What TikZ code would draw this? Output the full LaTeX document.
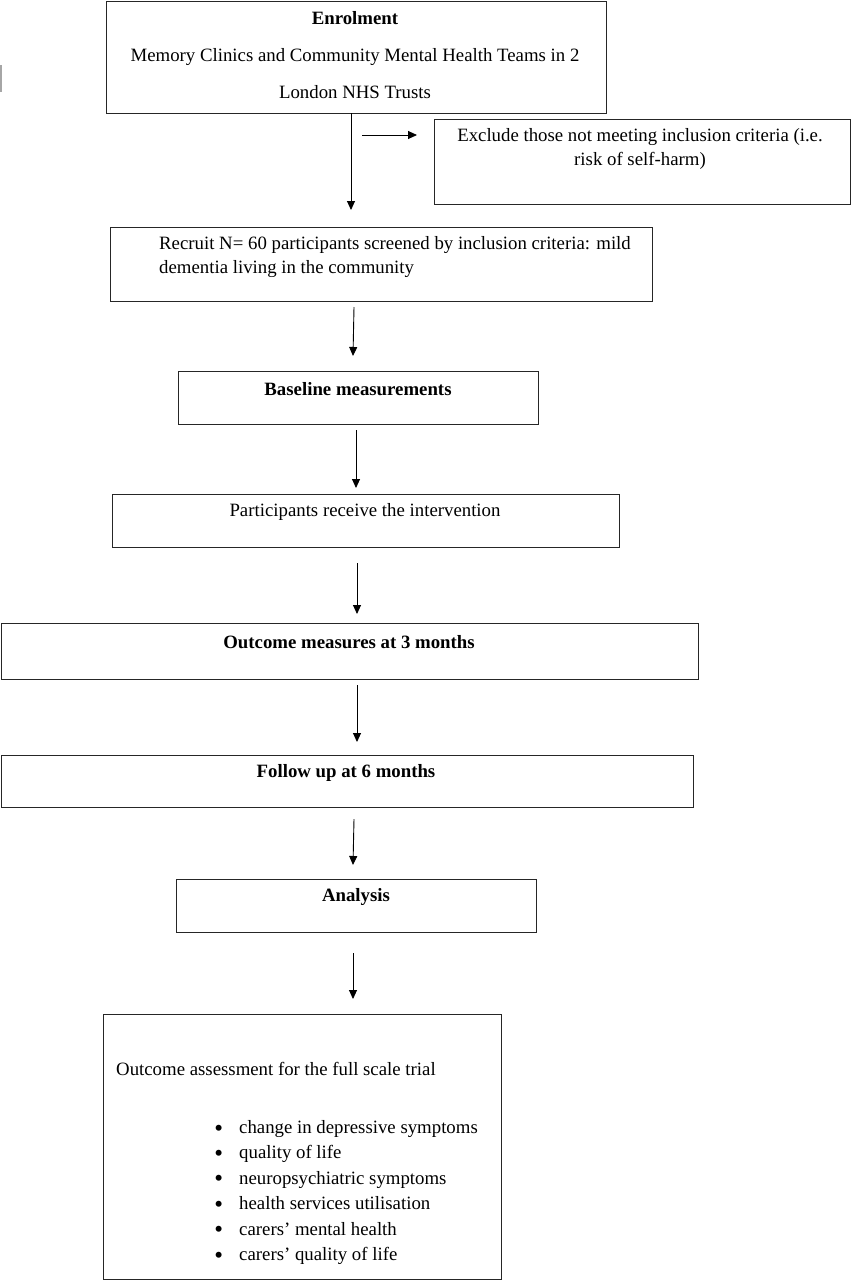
\documentclass[tikz,border=0pt]{standalone}
\usepackage{fontspec}
\setmainfont{Liberation Serif}
\usetikzlibrary{arrows.meta}
\newcommand{\bigbul}{\llap{\raisebox{-2.5pt}{\fontsize{25}{25}\selectfont •}\hspace{16pt}}}
\begin{document}
\begin{tikzpicture}[x=1pt,y=-1pt,
  box/.style={draw=black!85, line width=1.3pt, inner sep=0pt, anchor=north west},
  txt/.style={font=\fontsize{18.8}{24}\selectfont, inner sep=0pt, text=black},
  bold/.style={font=\bfseries\fontsize{18.8}{24}\selectfont},
  flow/.style={line width=0.9pt, -{Triangle[length=9pt,width=8pt]}}]
\useasboundingbox (0,0) rectangle (851,1280);

% boxes
\node[box, minimum width=500pt, minimum height=112pt] (enrol) at (106,0.7) {};
\node[box, minimum width=416pt, minimum height=85pt] (excl) at (434,119) {};
\node[box, minimum width=542pt, minimum height=74pt] (recruit) at (110,227) {};
\node[box, minimum width=360pt, minimum height=53pt] (base) at (178,371) {};
\node[box, minimum width=507pt, minimum height=53pt] (partic) at (112,494) {};
\node[box, minimum width=697pt, minimum height=56pt] (outc) at (0.7,623) {};
\node[box, minimum width=692pt, minimum height=52pt] (follow) at (0.7,755) {};
\node[box, minimum width=360pt, minimum height=53pt] (anal) at (176,879) {};
\node[box, minimum width=398pt, minimum height=265pt] (final) at (103,1014) {};

% texts
\node[txt, font=\fontsize{18.8}{37}\selectfont, align=center] (enrolT) at (355,55)
  {\textbf{Enrolment}\\Memory Clinics and Community Mental Health Teams in 2\\London NHS Trusts};
\node[txt, align=center] (exclT) at (640,149)
  {Exclude those not meeting inclusion criteria (i.e.\\risk of self-harm)};
\node[txt, align=left, anchor=west] (recT) at (159,257.5)
  {Recruit N= 60 participants screened by inclusion criteria: mild\\dementia living in the community};
\node[txt, bold] (baseT) at (358,389) {Baseline measurements};
\node[txt] (partT) at (365,512) {Participants receive the intervention};
\node[txt, bold] (outT) at (349,642) {Outcome measures at 3 months};
\node[txt, bold] (follT) at (346,773) {Follow up at 6 months};
\node[txt, bold] (analT) at (356,897) {Analysis};
\node[txt, anchor=west] (finT) at (116,1069) {Outcome assessment for the full scale trial};
\node[txt, font=\fontsize{18.8}{25.4}\selectfont, align=left, anchor=west] (listT) at (239,1192.5)
  {\bigbul change in depressive symptoms\\
   \bigbul quality of life\\
   \bigbul neuropsychiatric symptoms\\
   \bigbul health services utilisation\\
   \bigbul carers’ mental health\\
   \bigbul carers’ quality of life};

% arrow end points
\coordinate (a1s) at (351,113);  \coordinate (a1e) at (351,210);
\coordinate (a2s) at (362,135);  \coordinate (a2e) at (417,135);
\coordinate (a3s) at (354,307);  \coordinate (a3e) at (353,356);
\coordinate (a4s) at (356,430);  \coordinate (a4e) at (356,488);
\coordinate (a5s) at (357,563);  \coordinate (a5e) at (357,614);
\coordinate (a6s) at (357,685);  \coordinate (a6e) at (357,742);
\coordinate (a7s) at (354,819);  \coordinate (a7e) at (353,865);
\coordinate (a8s) at (353,953);  \coordinate (a8e) at (353,999);

\draw[flow] (a1s) -- (a1e);
\draw[flow] (a2s) -- (a2e);
\draw[flow] (a3s) -- (a3e);
\draw[flow] (a4s) -- (a4e);
\draw[flow] (a5s) -- (a5e);
\draw[flow] (a6s) -- (a6e);
\draw[flow] (a7s) -- (a7e);
\draw[flow] (a8s) -- (a8e);

% faint mark at left edge
\draw[black!35, line width=1.5pt] (1,65) -- (1,92);
\end{tikzpicture}
\end{document}
